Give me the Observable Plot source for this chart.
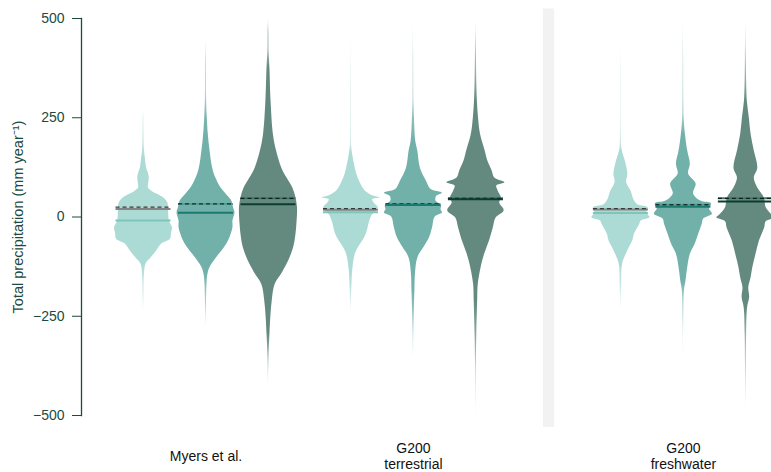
<!DOCTYPE html>
<html><head><meta charset="utf-8">
<script src="https://cdn.jsdelivr.net/npm/d3@7"></script>
<script src="https://cdn.jsdelivr.net/npm/@observablehq/plot@0.6"></script>
<style>body{margin:0;background:#fff}</style>
</head><body><div id="chart"></div>
<script>
// ---- data ----
const groups = ["Myers et al.", "G200\nterrestrial", "G200\nfreshwater"];
const groupPos = [1, 4.32, 8.64];
const seriesOffset = [-1, 0, 1];
const yTicks = [-500, -250, 0, 250, 500];
const yLabel = "Total precipitation (mm year\u207B\u00B9)";
const separator = [{x1: 6.40, x2: 6.58, y1: -530, y2: 524}];

// density profiles: [value, relative half-width]
const profiles = [
  [ // Myers et al.
    [[274,0],[250,0.012],[200,0.02],[174,0.03],[150,0.06],[123,0.11],[110,0.17],[98,0.2],[85,0.18],[73,0.17],[62,0.35],[55,0.55],[45,0.75],[35,0.84],[23,0.86],[7,0.87],[-5,0.88],[-15,0.92],[-27,1.0],[-43,0.96],[-56,0.93],[-68,0.63],[-85,0.46],[-103,0.26],[-118,0.09],[-143,0.035],[-200,0.015],[-245,0]],
    [[450,0],[400,0.012],[300,0.02],[249,0.045],[208,0.08],[166,0.14],[123,0.23],[98,0.34],[73,0.52],[58,0.69],[40,0.89],[23,0.95],[10,1.0],[-10,0.93],[-27,0.93],[-43,0.87],[-60,0.78],[-77,0.64],[-94,0.46],[-110,0.29],[-127,0.14],[-143,0.07],[-170,0.035],[-230,0.015],[-286,0]],
    [[500,0],[470,0.015],[420,0.02],[375,0.05],[291,0.09],[208,0.17],[166,0.28],[123,0.46],[98,0.64],[73,0.84],[48,0.95],[23,1.0],[7,1.0],[-18,0.98],[-43,0.95],[-77,0.87],[-110,0.7],[-127,0.58],[-143,0.46],[-170,0.23],[-211,0.13],[-253,0.08],[-295,0.05],[-350,0.02],[-430,0]]
  ],
  [ // G200 terrestrial
    [[460,0],[350,0.01],[250,0.012],[183,0.02],[157,0.06],[133,0.12],[108,0.2],[86,0.32],[65,0.5],[52,0.8],[48,1.0],[44,0.75],[35,0.8],[23,0.94],[12,0.85],[7,0.76],[-10,0.65],[-27,0.59],[-43,0.53],[-60,0.41],[-77,0.26],[-94,0.15],[-127,0.07],[-170,0.035],[-245,0]],
    [[490,0],[400,0.01],[300,0.015],[249,0.035],[191,0.08],[166,0.15],[123,0.24],[90,0.45],[70,0.6],[60,1.0],[52,0.8],[40,0.78],[28,0.97],[18,0.95],[10,1.0],[0,0.75],[-27,0.66],[-53,0.55],[-77,0.36],[-103,0.15],[-143,0.07],[-186,0.05],[-253,0.025],[-300,0.012],[-354,0]],
    [[497,0],[420,0.015],[340,0.03],[291,0.05],[249,0.09],[208,0.16],[166,0.32],[141,0.41],[116,0.56],[98,0.65],[86,1.0],[78,0.72],[65,0.77],[48,0.88],[35,0.82],[18,0.97],[12,0.95],[-2,0.7],[-27,0.6],[-60,0.47],[-94,0.3],[-127,0.18],[-170,0.08],[-211,0.06],[-295,0.03],[-380,0.012],[-495,0]]
  ],
  [ // G200 freshwater
    [[455,0],[350,0.008],[230,0.012],[180,0.025],[166,0.05],[133,0.18],[108,0.24],[86,0.2],[65,0.35],[40,0.47],[30,0.6],[23,0.94],[10,0.9],[-2,1.0],[-10,0.7],[-18,0.65],[-43,0.47],[-60,0.41],[-85,0.24],[-118,0.06],[-170,0.025],[-236,0]],
    [[497,0],[400,0.01],[300,0.015],[250,0.025],[208,0.07],[166,0.15],[133,0.24],[108,0.18],[83,0.44],[58,0.35],[40,0.6],[33,0.97],[20,0.9],[7,1.0],[-5,0.7],[-18,0.65],[-43,0.53],[-68,0.41],[-94,0.24],[-127,0.15],[-161,0.09],[-186,0.035],[-260,0.012],[-362,0]],
    [[497,0],[400,0.015],[330,0.03],[291,0.05],[249,0.12],[208,0.18],[166,0.29],[123,0.41],[98,0.29],[73,0.41],[48,0.64],[23,0.7],[5,0.9],[-2,1.0],[-12,0.7],[-27,0.65],[-60,0.47],[-94,0.35],[-127,0.24],[-153,0.18],[-178,0.1],[-203,0.13],[-228,0.06],[-295,0.025],[-400,0.01],[-495,0]]
  ]
];
// summary lines per group x series
const meanVals   = [[25, 33, 47], [21, 33, 47], [21, 31, 47]];  // dashed
const baseVals   = [[20, 33, 47], [18, 33, 47], [19, 31, 47]];  // solid under dashed
const medianVals = [[-9, 11, 32], [12, 30, 45], [10, 26, 39]];  // solid

// ---- styles ----
const fillColors   = ["#acdad4", "#72b0aa", "#648a80"];
const baseColors   = ["#858585", "#4f9d93", "#4a7468"];
const dashColors   = ["#3a3a3a", "#1c2c28", "#0a231d"];
const medianColors = ["#7cc6bb", "#1b7a6f", "#0b3c31"];
const HW = 0.464;     // max half-width in x units
const LHW = 0.44;     // summary line half-length

const violins = [];
profiles.forEach((gp, gi) => gp.forEach((prof, si) => {
  const pos = groupPos[gi] + seriesOffset[si];
  violins.push({gi, si, pos, rows: prof.map(([v, hw]) => ({v, hw, x1: pos - hw * HW, x2: pos + hw * HW}))});
}));

const statRows = [];
groups.forEach((g, gi) => seriesOffset.forEach((o, si) => {
  const pos = groupPos[gi] + o;
  statRows.push({pos, si, mean: meanVals[gi][si], base: baseVals[gi][si], median: medianVals[gi][si]});
}));

function defsMark() {
  const defs = d3.create("svg:defs");
  violins.forEach((vi, i) => {
    const top = vi.rows[0].v, bot = vi.rows[vi.rows.length - 1].v;
    const g = defs.append("linearGradient").attr("id", `vg${i}`)
      .attr("x1", 0).attr("x2", 0).attr("y1", 0).attr("y2", 1);
    vi.rows.forEach((r, k) => g.append("stop")
      .attr("offset", (top - r.v) / (top - bot))
      .attr("stop-color", fillColors[vi.si])
      .attr("stop-opacity", (k === 0 || k === vi.rows.length - 1) ? 0.15 : Math.min(1, Math.pow(r.hw / 0.05, 0.55))));
  });
  return defs.node();
}

const axisColor = "#1b4b3f";
const marks = [
  defsMark,
  Plot.rect(separator, {x1: "x1", x2: "x2", y1: "y1", y2: "y2", fill: "#f2f2f2"}),
  ...violins.map((vi, i) => Plot.areaX(vi.rows, {y: "v", x1: "x1", x2: "x2", fill: `url(#vg${i})`, curve: "catmull-rom"})),
  ...[0, 1, 2].map(si => Plot.ruleY(statRows.filter(d => d.si === si), {y: "base", x1: d => d.pos - LHW, x2: d => d.pos + LHW, stroke: baseColors[si], strokeWidth: 2})),
  ...[0, 1, 2].map(si => Plot.ruleY(statRows.filter(d => d.si === si), {y: "mean", x1: d => d.pos - LHW, x2: d => d.pos + LHW, stroke: dashColors[si], strokeWidth: 1.4, strokeDasharray: "4,3"})),
  ...[0, 1, 2].map(si => Plot.ruleY(statRows.filter(d => d.si === si), {y: "median", x1: d => d.pos - LHW, x2: d => d.pos + LHW, stroke: medianColors[si], strokeWidth: 2})),
  Plot.frame({anchor: "left", stroke: axisColor, strokeWidth: 1.3}),
  Plot.axisY({ticks: yTicks, tickSize: 9, tickPadding: 8, label: null, color: axisColor, fontSize: 14}),
  Plot.text([yLabel], {text: d => d, frameAnchor: "left", rotate: -90, dx: -63, textAnchor: "middle", lineAnchor: "middle", fill: axisColor, fontSize: 14.5}),
  Plot.text(groups.map((g, i) => ({label: g, pos: groupPos[i]})), {x: "pos", text: "label", frameAnchor: "bottom", dy: 40.5, lineAnchor: "middle", lineHeight: 1.1, fill: "#111", fontSize: 14})
];

const chart = Plot.plot({
  width: 771, height: 472,
  marginTop: 18, marginBottom: 57, marginLeft: 81, marginRight: 0,
  x: {domain: [0, 9.65], range: [143, 746], axis: null},
  y: {domain: [-500, 500], range: [415, 18], axis: null},
  style: {fontFamily: "'Liberation Sans', Arial, sans-serif", fontSize: "14px", background: "#fff"},
  marks
});
document.getElementById("chart").appendChild(chart);
</script>
</body></html>
